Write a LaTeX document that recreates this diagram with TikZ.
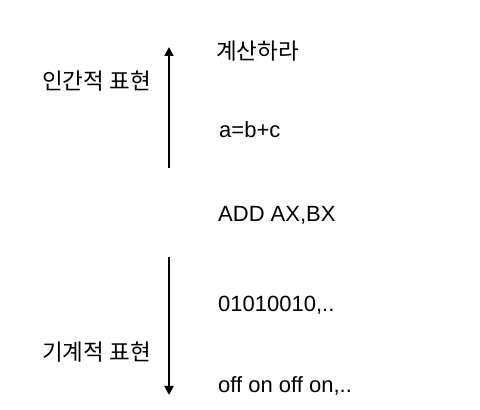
\documentclass[tikz,border=0pt]{standalone}
\usepackage{fontspec}
\setmainfont{Liberation Sans}
\newfontfamily\kr{Noto Sans CJK KR}
\usetikzlibrary{arrows.meta}
\begin{document}
\begin{tikzpicture}[x=1pt,y=1pt,
  lat/.style={anchor=base west,inner sep=0pt,font=\fontsize{22}{26}\selectfont},
  kor/.style={inner sep=0pt,font=\kr\fontsize{22.5}{26}\selectfont},
  axis/.style={line width=1.8pt,-{Triangle[width=9pt,length=9pt]}}]
\useasboundingbox (0,0) rectangle (480,410);
\fill[white] (0,0) rectangle (480,410);
% left labels
\node[kor,anchor=west] (human) at (42,329) {인간적 표현};
\node[kor,anchor=west] (machine) at (42,58) {기계적 표현};
% right texts
\node[kor,anchor=west] (calc) at (216,359) {계산하라};
\node[lat] (expr) at (219,272) {a=b+c};
\node[lat] (asm) at (218,188) {ADD AX,BX};
\node[lat] (bin) at (218,98) {01010010,..};
\node[lat] (sig) at (218,17) {off on off on,..};
% arrows
\coordinate (upS) at (169,242);
\coordinate (upE) at (169,363);
\coordinate (dnS) at (169,153);
\coordinate (dnE) at (169,15);
\draw[axis] (upS) -- (upE);
\draw[axis] (dnS) -- (dnE);
\end{tikzpicture}
\end{document}
